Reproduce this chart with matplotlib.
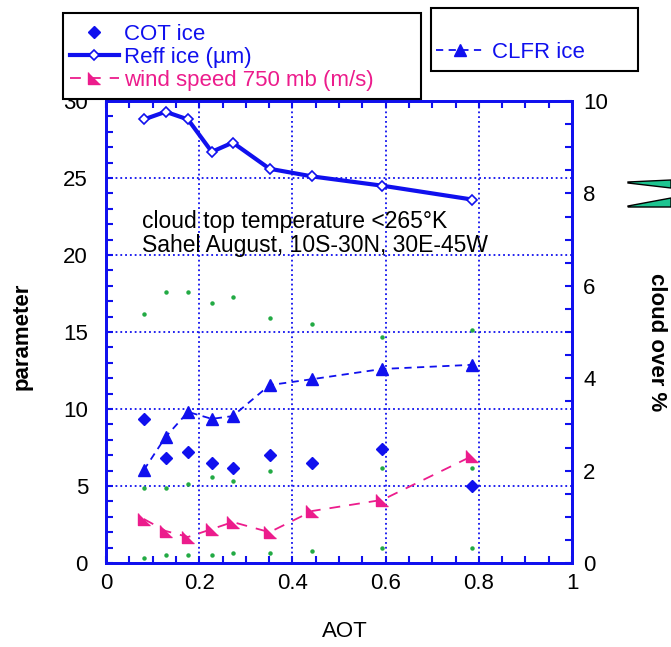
import matplotlib
matplotlib.use("Agg")
import matplotlib.pyplot as plt
from matplotlib.ticker import MultipleLocator
from matplotlib.patches import Rectangle, Polygon

plt.rcParams['font.family'] = ['Liberation Sans', 'DejaVu Sans']

# values
aot = [0.081, 0.128, 0.176, 0.227, 0.272, 0.351, 0.443, 0.593, 0.786]
cot_ice = [9.35, 6.8, 7.2, 6.5, 6.2, 7.0, 6.5, 7.4, 5.0]
reff_ice = [28.8, 29.3, 28.8, 26.7, 27.3, 25.6, 25.1, 24.5, 23.6]
wind_750 = [2.86, 2.08, 1.69, 2.2, 2.66, 2.0, 3.38, 4.1, 6.95]
clfr_ice = [2.01, 2.73, 3.27, 3.12, 3.18, 3.85, 3.98, 4.2, 4.29]   # right axis
green_hi = [16.2, 17.6, 17.6, 16.9, 17.3, 15.9, 15.5, 14.7, 15.1]
green_mid = [4.9, 4.9, 5.1, 5.6, 5.3, 6.0, 6.4, 6.2, 6.2]
green_lo = [0.3, 0.5, 0.5, 0.5, 0.65, 0.65, 0.8, 1.0, 1.0]

xticks = [0, 0.2, 0.4, 0.6, 0.8, 1]
xticklabels = ['0', '0.2', '0.4', '0.6', '0.8', '1']
yticks_left = [0, 5, 10, 15, 20, 25, 30]
yticks_right = [0, 2, 4, 6, 8, 10]

blue = '#1010EE'
pink = '#EC1C8C'
green = '#22AA44'
fs = 16

W, H = 671, 647


def px(x, y):
    return (x / W, 1 - y / H)


fig = plt.figure(figsize=(W / 100, H / 100), dpi=100)
ax = fig.add_axes([106 / W, 1 - 563 / H, 466 / W, 462 / H])
ax2 = ax.twinx()

ax.set_xlim(0, 1)
ax.set_ylim(0, 30)
ax2.set_ylim(0, 10)

ax.grid(True, color=blue, linestyle=':', linewidth=1.3)
ax.set_axisbelow(True)

# green small dots
for g in (green_hi, green_mid, green_lo):
    ax.plot(aot, g, linestyle='none', marker='o', markersize=2.2, color=green)

h_cot, = ax.plot(aot, cot_ice, linestyle='none', marker='D', markersize=6.5,
                 color=blue, label='COT ice')
h_reff, = ax.plot(aot, reff_ice, '-', linewidth=3, color=blue, marker='D',
                  markersize=5, markerfacecolor='white', markeredgecolor=blue,
                  markeredgewidth=1.2, label='Reff ice (\u00b5m)')
flag = [(-1, 1), (-1, -1), (1, -1)]
h_wind, = ax.plot(aot, wind_750, linestyle=(0, (6, 5)), linewidth=1.3, color=pink,
                  marker=flag, markersize=9, label='wind speed 750 mb (m/s)')
h_clfr, = ax2.plot(aot, clfr_ice, linestyle=(0, (4, 3)), linewidth=1.3, color=blue,
                   marker='^', markersize=8, label='CLFR ice')

ax.text(0.077, 22.2, 'cloud top temperature <265\u00b0K', fontsize=fs + 0.5, va='center')
ax.text(0.077, 20.6, 'Sahel August, 10S-30N, 30E-45W', fontsize=fs + 0.5, va='center')

ax.set_xticks(xticks)
ax.set_xticklabels(xticklabels)
ax.set_yticks(yticks_left)
ax.set_yticklabels([str(v) for v in yticks_left])
ax2.set_yticks(yticks_right)
ax2.set_yticklabels([str(v) for v in yticks_right])
ax.xaxis.set_minor_locator(MultipleLocator(0.05))
ax.yaxis.set_minor_locator(MultipleLocator(1))
ax2.yaxis.set_minor_locator(MultipleLocator(0.5))

ax.tick_params(which='both', direction='in', color=blue, length=5, width=1.5,
               top=True, labelsize=fs)
ax.tick_params(axis='y', pad=13)
ax.tick_params(axis='x', pad=7)
ax2.tick_params(which='both', direction='in', color=blue, length=5, width=1.5,
                labelsize=fs, pad=8)
for a in (ax, ax2):
    for s in a.spines.values():
        s.set_color(blue)
        s.set_linewidth(2)

ax.text(-0.18, 0.49, 'parameter', transform=ax.transAxes, rotation=90,
        ha='center', va='center', fontsize=fs, fontweight='bold')
ax.text(1.182, 0.478, 'cloud over %', transform=ax.transAxes, rotation=270,
        ha='center', va='center', fontsize=fs, fontweight='bold')
ax.text(0.513, -0.149, 'AOT', transform=ax.transAxes, ha='center', va='center',
        fontsize=fs)

# legend boxes
fig.add_artist(Rectangle(px(63, 99), (421 - 63) / W, (99 - 13) / H,
                         transform=fig.transFigure, facecolor='white',
                         edgecolor='black', linewidth=1.5, zorder=4))
fig.add_artist(Rectangle(px(431, 71), (638 - 431) / W, (71 - 8) / H,
                         transform=fig.transFigure, facecolor='white',
                         edgecolor='black', linewidth=1.5, zorder=4))

fig.legend(handles=[h_cot, h_reff, h_wind], loc='upper left',
           bbox_to_anchor=px(70, 24), frameon=False, fontsize=fs,
           handlelength=2.2, handletextpad=0.25, borderpad=0, borderaxespad=0,
           labelspacing=0.08, labelcolor=[blue, blue, pink])
fig.legend(handles=[h_clfr], loc='upper left', bbox_to_anchor=px(436, 42),
           frameon=False, fontsize=fs, handlelength=2.2, handletextpad=0.3,
           borderpad=0, borderaxespad=0, labelcolor=[blue])

# clipped green shapes at the right edge
for pts in ([(628, 182), (671, 180), (671, 188), (628, 183)],
            [(628, 206), (671, 198), (671, 207), (628, 207)]):
    fig.add_artist(Polygon([px(x, y) for x, y in pts], closed=True,
                           transform=fig.transFigure, facecolor='#1DC490',
                           edgecolor='black', linewidth=1))

fig.savefig('out.png', dpi=100)
